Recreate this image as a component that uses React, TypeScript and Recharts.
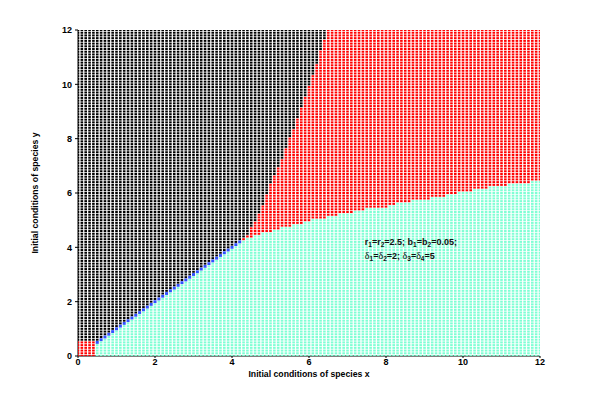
import React from 'react';
import { ScatterChart, Scatter, XAxis, YAxis, ReferenceDot } from 'recharts';

// initial conditions sampled every 0.1 on both axes
const gridCount = 121;
const gridStep = 0.1;
const axisTicks = [0, 2, 4, 6, 8, 10, 12];

// top of the cyan basin (red / cyan edge), read at these x
const cyanEdgeX = [4.2, 4.5, 5, 5.5, 6, 6.5, 7, 7.5, 8, 8.5, 9, 9.5, 10, 10.5, 11, 11.5, 12];
const cyanEdgeY = [4.25, 4.4, 4.6, 4.78, 4.97, 5.13, 5.27, 5.41, 5.5, 5.67, 5.77, 5.88, 6.06, 6.16, 6.27, 6.36, 6.45];

// right end of the black basin (black / red edge), read at these y
const blackEdgeY = [4.2, 4.5, 5, 5.5, 6, 6.5, 7, 7.5, 8, 8.5, 9, 9.5, 10, 10.5, 11, 11.5, 12];
const blackEdgeX = [4.2, 4.42, 4.62, 4.78, 4.93, 5.04, 5.22, 5.37, 5.5, 5.64, 5.76, 5.89, 6.01, 6.13, 6.25, 6.37, 6.5];

// small red corner at the origin, blue separatrix on y = x
const redCorner = [0.4, 0.5];
const blueDiagonal = [0.5, 4.2];

// parameter note: [text, kind] with kind '' normal, 's' subscript, 'g' greek
const noteLine1: [string, string][] = [
  ['r', ''], ['1', 's'], ['=r', ''], ['2', 's'], ['=2.5; b', ''], ['1', 's'], ['=b', ''], ['2', 's'], ['=0.05;', ''],
];
const noteLine2: [string, string][] = [
  ['δ', 'g'], ['1', 's'], ['=', ''], ['δ', 'g'], ['2', 's'], ['=2; ', ''],
  ['δ', 'g'], ['3', 's'], ['=', ''], ['δ', 'g'], ['4', 's'], ['=5', ''],
];

const lerp = (xs: number[], ys: number[], v: number) => {
  if (v <= xs[0]) return ys[0];
  for (let k = 1; k < xs.length; k++) {
    if (v <= xs[k]) {
      const t = (v - xs[k - 1]) / (xs[k] - xs[k - 1]);
      return ys[k - 1] + t * (ys[k] - ys[k - 1]);
    }
  }
  return ys[ys.length - 1];
};

const eps = 1e-6;
const blackPts: { x: number; y: number }[] = [];
const redPts: { x: number; y: number }[] = [];
const cyanPts: { x: number; y: number }[] = [];
const bluePts: { x: number; y: number }[] = [];

for (let i = 0; i < gridCount; i++) {
  for (let j = 0; j < gridCount; j++) {
    const x = +(i * gridStep).toFixed(1);
    const y = +(j * gridStep).toFixed(1);
    const p = { x, y };
    if (x <= redCorner[0] + eps && y <= redCorner[1] + eps) redPts.push(p);
    else if (i === j && x >= blueDiagonal[0] - eps && x <= blueDiagonal[1] + eps) bluePts.push(p);
    else if (x < cyanEdgeX[0] ? y < x : y < lerp(cyanEdgeX, cyanEdgeY, x)) cyanPts.push(p);
    else if (y < blackEdgeY[0] ? x < y : x < lerp(blackEdgeY, blackEdgeX, y)) blackPts.push(p);
    else redPts.push(p);
  }
}

const font = 'Liberation Sans, Arial, sans-serif';

const dot = (props: any) => (
  <rect x={props.cx - 1.3} y={props.cy - 1} width={2.6} height={2} fill={props.fill} />
);
const bigDot = (props: any) => (
  <rect x={props.cx - 1.5} y={props.cy - 1.4} width={3} height={2.8} fill={props.fill} />
);

const renderSegs = (segs: [string, string][]) => {
  let prevSub = false;
  return segs.map(([t, kind], k) => {
    const isSub = kind === 's';
    const dy = (isSub ? 2.5 : 0) - (prevSub ? 2.5 : 0);
    prevSub = isSub;
    return (
      <tspan
        key={k}
        dy={dy}
        fontSize={isSub ? 6.5 : kind === 'g' ? 10 : 9}
        fontFamily={kind === 'g' ? 'Liberation Serif, serif' : undefined}
        fontWeight={kind === 'g' ? 'normal' : undefined}
      >
        {t}
      </tspan>
    );
  });
};

const Annotation = (props: any) => {
  const { x, y } = props.viewBox;
  return (
    <g fontFamily={font} fontWeight="bold" fontSize={9} fill="#111">
      <text x={x} y={y}>{renderSegs(noteLine1)}</text>
      <text x={x} y={y + 14}>{renderSegs(noteLine2)}</text>
    </g>
  );
};

const App = () => (
  <div style={{ position: 'absolute', left: 0, top: 0 }}>
    <ScatterChart width={597} height={400} margin={{ top: 30, right: 57, bottom: 14, left: 0 }}>
      <XAxis
        type="number"
        dataKey="x"
        domain={[0, 12]}
        ticks={axisTicks}
        allowDataOverflow
        height={30}
        tickSize={2}
        tickMargin={1}
        axisLine={{ stroke: '#000' }}
        tickLine={{ stroke: '#000' }}
        tick={{ fontSize: 9, fontWeight: 'bold', fill: '#000', fontFamily: font }}
        label={{
          content: (p: any) => (
            <text x={p.viewBox.x + p.viewBox.width / 2} y={376.5} textAnchor="middle"
              fontFamily={font} fontWeight="bold" fontSize={8.7} fill="#000">
              Initial conditions of species x
            </text>
          ),
        }}
      />
      <YAxis
        type="number"
        dataKey="y"
        domain={[0, 12]}
        ticks={axisTicks}
        allowDataOverflow
        width={78}
        tickSize={3}
        tickMargin={3}
        axisLine={{ stroke: '#000' }}
        tickLine={{ stroke: '#000' }}
        tick={{ fontSize: 9, fontWeight: 'bold', fill: '#000', fontFamily: font }}
        label={{
          content: (p: any) => {
            const cx = 35;
            const cy = p.viewBox.y + p.viewBox.height / 2;
            return (
              <text x={cx} y={cy} transform={`rotate(-90 ${cx} ${cy})`} textAnchor="middle"
                dominantBaseline="central" fontFamily={font} fontWeight="bold" fontSize={8.7} fill="#000">
                Initial conditions of species y
              </text>
            );
          },
        }}
      />
      <XAxis
        xAxisId="top"
        orientation="top"
        type="number"
        domain={[0, 12]}
        ticks={axisTicks}
        allowDataOverflow
        height={0}
        axisLine={{ stroke: '#000' }}
        tickLine={false}
        tick={() => <g />}
        label={{
          content: (p: any) => (
            <text x={p.viewBox.x + p.viewBox.width / 2} y={23} textAnchor="middle"
              fontFamily={font} fontWeight="bold" fontSize={9} fill="#000">
              Basins of Attractions
            </text>
          ),
        }}
      />
      <YAxis
        yAxisId="right"
        orientation="right"
        type="number"
        domain={[0, 12]}
        ticks={axisTicks}
        allowDataOverflow
        width={0}
        axisLine={{ stroke: '#000' }}
        tickLine={false}
        tick={() => <g />}
      />
      <Scatter data={cyanPts} fill="#7fffd4" shape={dot} isAnimationActive={false} />
      <Scatter data={redPts} fill="#ff0000" shape={dot} isAnimationActive={false} />
      <Scatter data={blackPts} fill="#000000" shape={dot} isAnimationActive={false} />
      <Scatter data={bluePts} fill="#2f4fff" shape={bigDot} isAnimationActive={false} />
      <ReferenceDot x={7.45} y={4.1} r={0} shape={() => <g />} label={{ content: Annotation }} />
    </ScatterChart>
  </div>
);

export default App;
